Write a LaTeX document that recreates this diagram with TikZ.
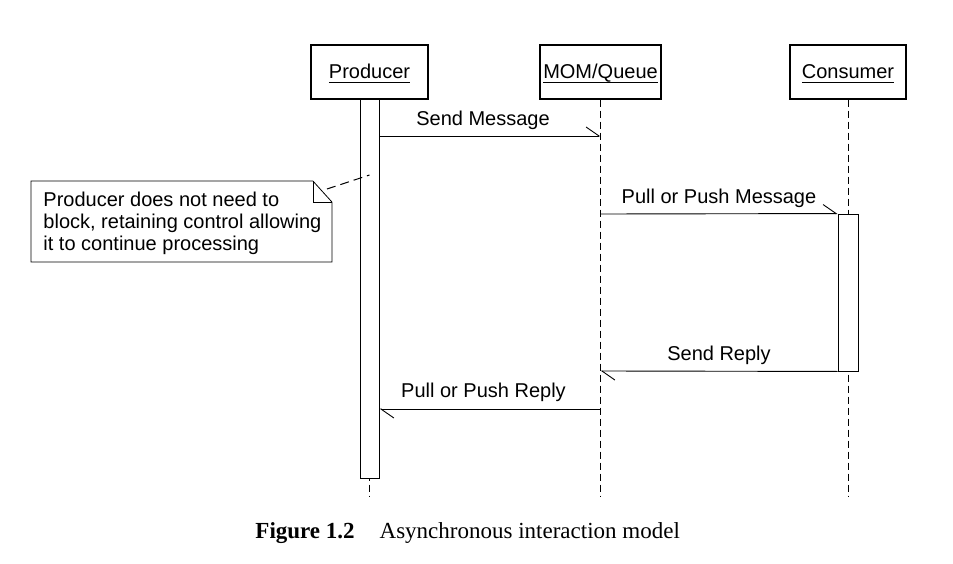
\documentclass[tikz,border=0pt]{standalone}
\usepackage{fontspec}
\setmainfont{Liberation Sans}
\newfontfamily\capfont{Liberation Serif}
\usetikzlibrary{arrows.meta,calc}
\newcommand{\myul}[1]{\setbox0\hbox{#1}\rlap{\rule[-4pt]{\wd0}{1.2pt}}\box0}
\begin{document}
\begin{tikzpicture}[x=1pt,y=1pt,line width=0.9pt,
  hdr/.style={draw,line width=1.1pt,minimum height=54pt,inner sep=0pt,fill=white},
  bar/.style={draw,line width=0.9pt,fill=white,inner sep=0pt},
  life/.style={dash pattern=on 7pt off 4pt,line width=0.8pt},
  notelink/.style={dash pattern=on 9pt off 5pt,line width=1pt},
  msg/.style={-{Straight Barb[harpoon,length=13pt,width=18pt,line width=0.9pt]}},
  lbl/.style={anchor=base,inner sep=0pt,font=\fontsize{20}{22}\selectfont},
]
\useasboundingbox (0,0) rectangle (953,-564);
% headers
\node[hdr,minimum width=117pt] (prod) at (369.5,-72) {};
\node[lbl] (prodt) at (369.5,-79) {\myul{Producer}};
\node[hdr,minimum width=121pt] (mom) at (600.5,-72) {};
\node[lbl] (momt) at (600.5,-79) {\myul{MOM/Queue}};
\node[hdr,minimum width=116pt] (cons) at (848,-72) {};
\node[lbl] (const) at (848,-79) {\myul{Consumer}};
% lifelines
\coordinate (pend) at (369.5,-497);
\coordinate (mend) at (600.5,-497);
\coordinate (cend) at (848,-497);
\draw[life] (prod.south) -- (pend);
\draw[life] (mom.south) -- (mend);
\draw[life] (cons.south) -- (cend);
% activation bars
\node[bar,minimum width=19pt,minimum height=379pt] (pbar) at (369.5,-288.5) {};
\node[bar,minimum width=20pt,minimum height=157pt] (cbar) at (848,-292.5) {};
% messages
\coordinate (q1) at (600.5,-136);
\coordinate (q3) at (600.5,-371);
\coordinate (q2) at (600.5,-214);
\coordinate (q4) at (600.5,-409);
\draw[msg] (pbar.east |- q1) -- (q1);
\node[lbl] (l1) at (483,-126) {Send Message};
\draw[msg] (q2) -- (cbar.north west);
\node[lbl] (l2) at (719,-204) {Pull or Push Message};
\draw[msg] (cbar.south west) -- (q3);
\node[lbl] (l3) at (719,-360) {Send Reply};
\draw[msg] (q4) -- (pbar.east |- q4);
\node[lbl] (l4) at (483.5,-397) {Pull or Push Reply};
% note
\node[inner sep=0pt,minimum width=300pt,minimum height=80pt] (note) at (181.5,-221.5) {};
\draw[line width=0.8pt] (note.south west) -- (note.north west) -- ([xshift=-19pt]note.north east) coordinate (f1)
  -- ([yshift=-21pt]note.north east) coordinate (f2) -- (note.south east) -- cycle;
\draw[line width=0.8pt] (f1) |- (f2);
\node[lbl,anchor=base west,align=left] (notet) at (43,-251) {Producer does not need to\\block, retaining control allowing\\it to continue processing};
\coordinate (nc) at (327,-189);
\coordinate (pc) at (369.5,-175);
\draw[notelink] (nc) -- (pc);
% caption
\node[anchor=base west,inner sep=0pt,font=\capfont\fontsize{23}{26}\selectfont] (cap) at (255,-538) {\textbf{Figure 1.2}\hspace{25pt}Asynchronous interaction model};
\end{tikzpicture}
\end{document}
